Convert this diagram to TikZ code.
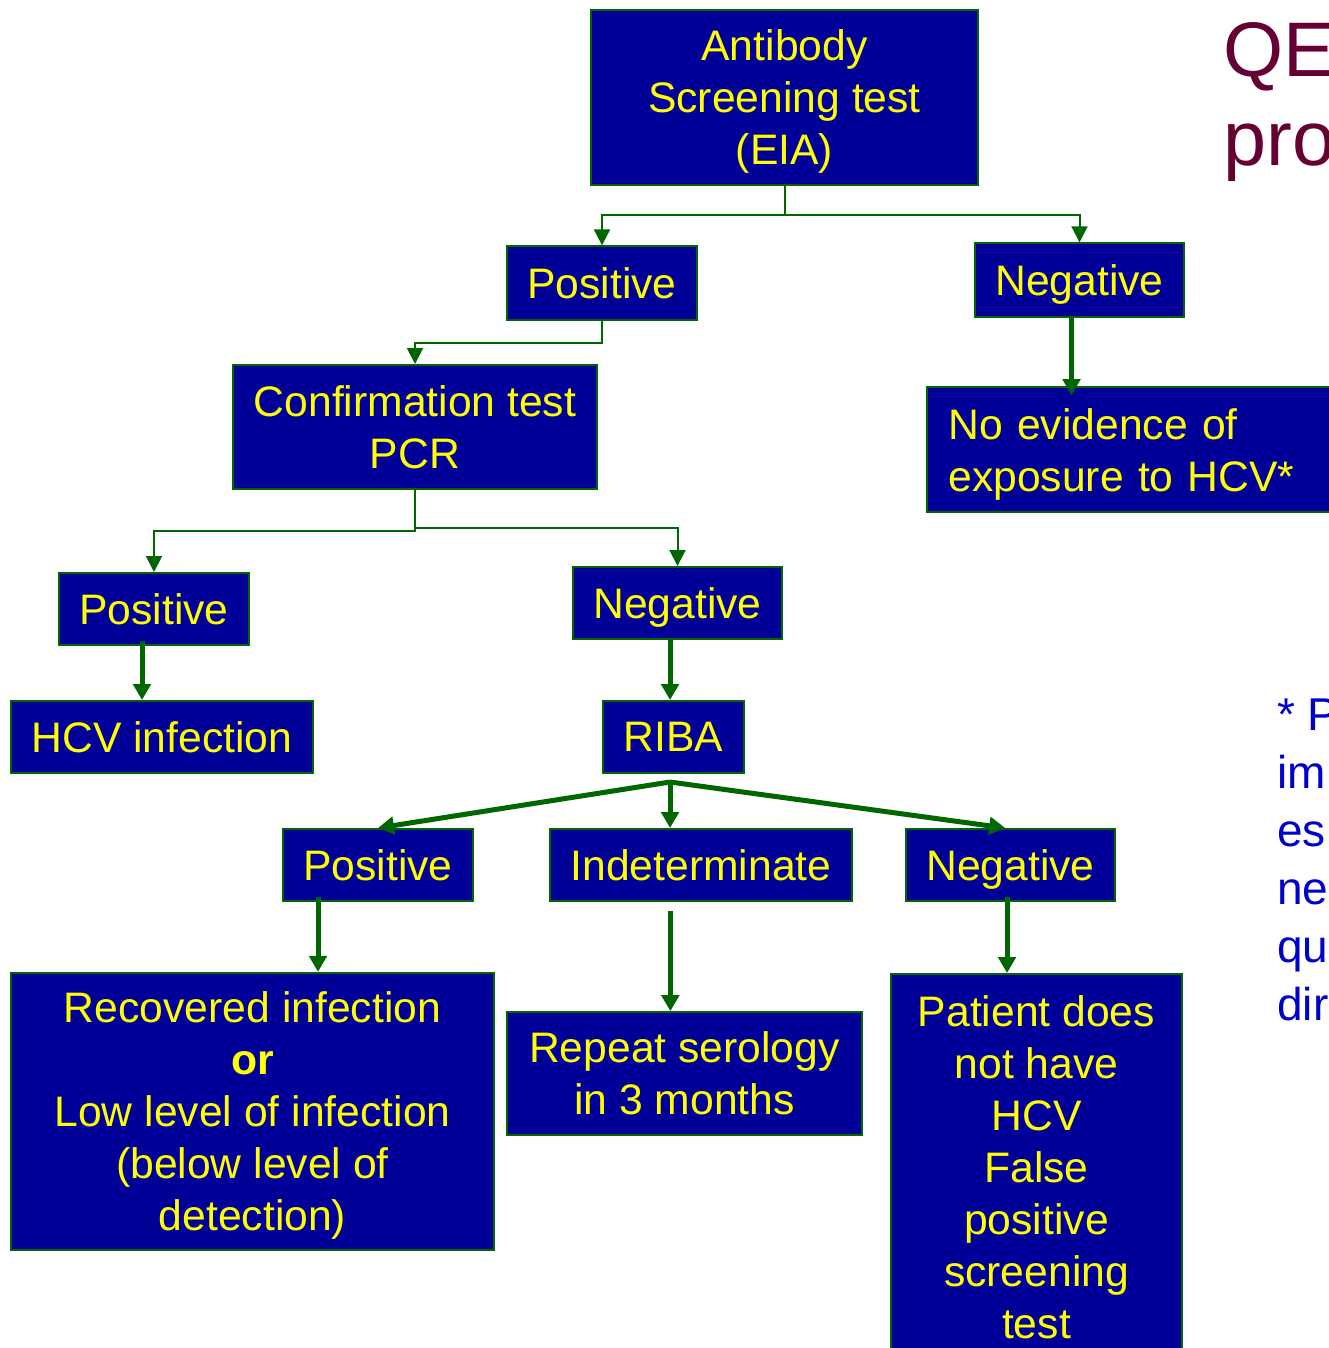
\documentclass[tikz,border=0pt]{standalone}
\usepackage{fontspec}
\setmainfont{Liberation Sans}
\usepackage{xcolor}
\usepackage{tikz}
\usetikzlibrary{calc,arrows.meta}

\definecolor{boxblue}{HTML}{000099}
\definecolor{linegreen}{HTML}{006600}
\definecolor{textyellow}{HTML}{FFFF00}
\definecolor{titlered}{HTML}{660033}
\definecolor{noteblue}{HTML}{0000CC}

\begin{document}
\begin{tikzpicture}[x=0.75pt,y=-0.75pt,
							box/.style={rectangle,draw=linegreen,line width=1.5pt,fill=boxblue,text=textyellow,
								font=\fontsize{32}{39}\selectfont,align=center,inner sep=0pt,text depth=0pt},
							thinarrow/.style={draw=linegreen,line width=1.5pt,-{Triangle[length=12pt,width=12pt]}},
							thickarrow/.style={draw=linegreen,line width=3.75pt,-{Triangle[length=12pt,width=13pt]}}]
			\useasboundingbox (0,0) rectangle (1328,1348);
			% boxes
			\node[box,minimum width=290pt,minimum height=131pt] (ab) at (784.5,97.5) {Antibody\\Screening test\\(EIA)};
			\node[box,minimum width=142.5pt,minimum height=55pt] (pos1) at (602,283) {Positive};
			\node[box,minimum width=157pt,minimum height=55pt] (neg1) at (1079.5,280) {Negative};
			\node[box,minimum width=273pt,minimum height=93pt] (conf) at (415,427) {Confirmation test\\PCR};
			\node[box,anchor=west,align=left,inner xsep=16pt,text width=282pt,minimum height=94pt,text depth=38.5pt] (noev) at (926,449.5) {No evidence of\\exposure to HCV*};
			\node[box,minimum width=142.5pt,minimum height=54pt] (pos2) at (154,609) {Positive};
			\node[box,minimum width=157pt,minimum height=54pt] (neg2) at (677.5,603) {Negative};
			\node[box,minimum width=226.5pt,minimum height=54pt] (hcv) at (162,737) {HCV infection};
			\node[box,minimum width=106pt,minimum height=54pt] (riba) at (673.5,737) {RIBA};
			\node[box,minimum width=142.5pt,minimum height=54pt] (pos3) at (378,865) {Positive};
			\node[box,minimum width=226.5pt,minimum height=54pt] (ind) at (701,865) {Indeterminate};
			\node[box,minimum width=157pt,minimum height=54pt] (neg3) at (1010.5,865) {Negative};
			\node[box,minimum width=362pt,minimum height=208pt,text depth=-4pt] (rec) at (252.5,1111.5) {Recovered infection\\\textbf{or}\\Low level of infection\\(below level of\\detection)};
			\node[box,minimum width=266pt,minimum height=92pt] (rep) at (684.5,1073.5) {Repeat serology\\in 3 months};
			\node[box,anchor=north,minimum width=218pt,inner ysep=16pt] (pat) at (1036.5,973) {Patient does\\not have\\HCV\\False\\positive\\screening\\test};
			% side texts
			\node[anchor=north west,inner sep=0pt,text=titlered,font=\fontsize{58}{67}\selectfont,align=left] (title) at (1223,22) {QE\\pro};
			\node[anchor=north west,inner sep=0pt,text=noteblue,font=\fontsize{34.5}{43.5}\selectfont,align=left] (note) at (1277,699) {* P\\im\\es\\ne\\qu\\dir};
			% connectors
			\draw[thinarrow] (ab.south) -- ++(0,29) -| (pos1.north);
			\draw[thinarrow] (ab.south) -- ++(0,29) -| (neg1.north);
			\draw[thinarrow] (pos1.south) -- ++(0,22) -| (conf.north);
			\draw[thinarrow] (conf.south) -- ++(0,41) -| (pos2.north);
			\draw[thinarrow] (conf.south) -- ++(0,38) -| (neg2.north);
			\draw[thickarrow,shorten >=-7pt] ([xshift=-6pt]neg1.south) -- ([xshift=-6pt]neg1.south |- noev.north);
			\draw[thickarrow] ([xshift=-9pt,yshift=4pt]pos2.south) -- ([xshift=-9pt]pos2.south |- hcv.north);
			\draw[thickarrow] ([xshift=-5.6pt]neg2.south) -- ([xshift=-5.6pt]neg2.south |- riba.north);
			\coordinate (fork) at ([xshift=-2.6pt,yshift=-6pt]riba.south);
			\draw[thickarrow] (fork) -- (pos3.north);
			\draw[thickarrow] (fork) -- (fork |- ind.north);
			\draw[thickarrow] (fork) -- ([xshift=-4pt]neg3.north);
			\draw[thickarrow] ([xshift=-45pt,yshift=4pt]pos3.south) -- ([xshift=-45pt]pos3.south |- rec.north);
			\draw[thickarrow] ([xshift=-23pt,yshift=-7pt]ind.south) -- ([xshift=-23pt]ind.south |- rep.north);
			\draw[thickarrow] ([xshift=-2.6pt,yshift=4pt]neg3.south) -- ([xshift=-2.6pt]neg3.south |- pat.north);
		\end{tikzpicture}
\end{document}
